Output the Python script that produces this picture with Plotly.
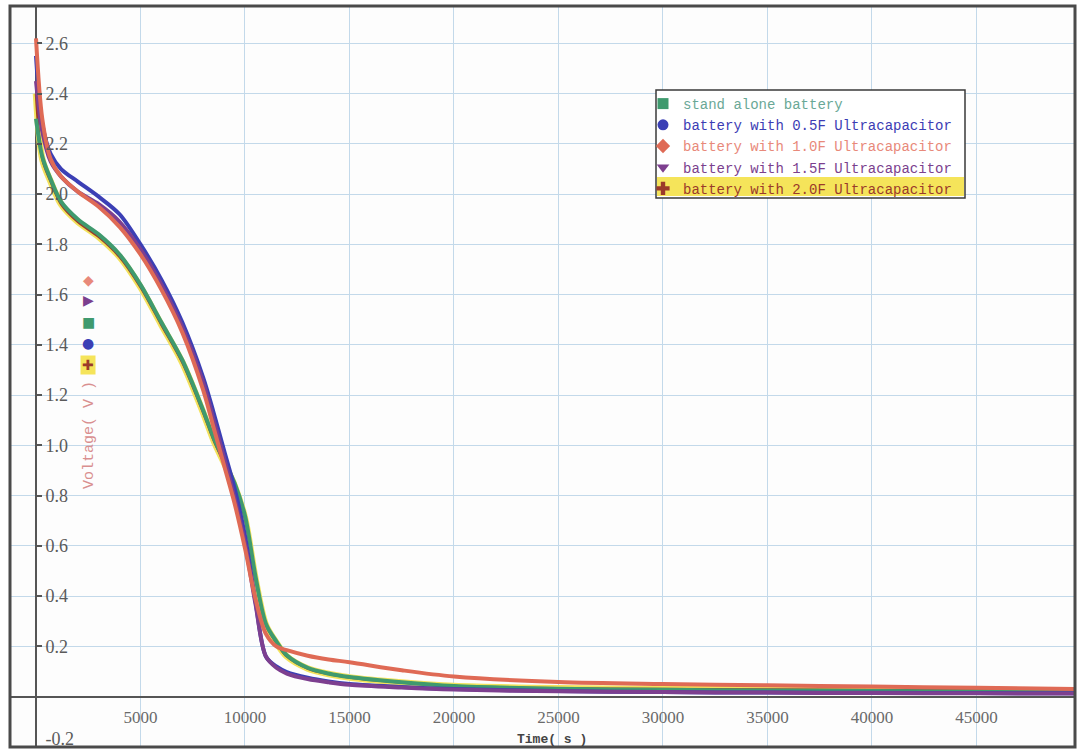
import plotly.graph_objects as go

# ---------------- data ----------------
time_s = [0, 300, 700, 1200, 2000, 3000, 4000, 5000, 6000, 7000, 8000, 8500, 9000,
          9500, 10000, 10500, 11000, 11500, 12000, 13000, 14000, 15000, 17500, 20000,
          25000, 30000, 35000, 40000, 45000, 49700]

v_standalone = [2.30, 2.15, 2.06, 1.97, 1.90, 1.84, 1.76, 1.64, 1.49, 1.34, 1.14, 1.03, 0.94,
                0.85, 0.72, 0.48, 0.29, 0.22, 0.165, 0.115, 0.092, 0.078, 0.057, 0.042,
                0.031, 0.027, 0.024, 0.022, 0.020, 0.018]
v_05F = [2.55, 2.28, 2.16, 2.10, 2.05, 1.99, 1.92, 1.80, 1.66, 1.49, 1.27, 1.13, 0.98,
         0.83, 0.64, 0.38, 0.16, 0.120, 0.098, 0.075, 0.060, 0.050, 0.038, 0.030,
         0.022, 0.018, 0.016, 0.015, 0.014, 0.013]
v_10F = [2.62, 2.30, 2.14, 2.07, 2.01, 1.95, 1.87, 1.76, 1.62, 1.45, 1.22, 1.07, 0.92,
         0.77, 0.59, 0.39, 0.25, 0.20, 0.185, 0.163, 0.148, 0.137, 0.105, 0.080,
         0.058, 0.050, 0.045, 0.040, 0.035, 0.030]
v_15F = [2.45, 2.25, 2.13, 2.07, 2.01, 1.96, 1.89, 1.78, 1.64, 1.47, 1.25, 1.10, 0.95,
         0.79, 0.61, 0.37, 0.16, 0.115, 0.092, 0.070, 0.057, 0.047, 0.036, 0.028,
         0.021, 0.018, 0.016, 0.014, 0.013, 0.012]
v_20F = [2.40, 2.14, 2.05, 1.96, 1.89, 1.83, 1.75, 1.63, 1.48, 1.33, 1.13, 1.02, 0.93,
         0.84, 0.71, 0.47, 0.285, 0.215, 0.160, 0.112, 0.090, 0.076, 0.056, 0.042,
         0.033, 0.030, 0.028, 0.026, 0.024, 0.022]

series_names = ["stand alone battery",
                "battery with 0.5F Ultracapacitor",
                "battery with 1.0F Ultracapacitor",
                "battery with 1.5F Ultracapacitor",
                "battery with 2.0F Ultracapacitor"]

x_ticks = [5000, 10000, 15000, 20000, 25000, 30000, 35000, 40000, 45000]
y_ticks = [-0.2, 0.2, 0.4, 0.6, 0.8, 1.0, 1.2, 1.4, 1.6, 1.8, 2.0, 2.2, 2.4, 2.6]

# ---------------- styling ----------------
W, H = 1077, 751
L, R, T, B = 10, 1075, 6, 747          # frame in pixels
X_MIN, X_MAX = -1244, 49716
Y_MIN, Y_MAX = -0.2005, 2.749

def px_x(p):
    return (p - L) / (R - L)

def px_y(p):
    return (B - p) / (B - T)

line_colors = ["#3f9a6e", "#3b3fb5", "#df6a55", "#7d3f8f", "#9b3a2a"]
text_colors = ["#6aa896", "#3c3cb4", "#e8897a", "#7b3f8e", "#9b3a2a"]
symbols = ["square", "circle", "diamond", "triangle-down", "cross"]
values = [v_standalone, v_05F, v_10F, v_15F, v_20F]
SPL = dict(shape="spline", smoothing=0.9)

fig = go.Figure()

# highlighted (selected) 2.0F series: yellow glow + brown core, drawn first
fig.add_trace(go.Scatter(x=time_s, y=v_20F, mode="lines", showlegend=False,
                         line=dict(color="#f2e25c", width=6.5, **SPL), hoverinfo="skip"))
fig.add_trace(go.Scatter(x=time_s, y=v_20F, mode="lines", showlegend=False,
                         line=dict(color=line_colors[4], width=2.5, **SPL)))

for idx in [0, 1, 3, 2]:
    fig.add_trace(go.Scatter(x=time_s, y=values[idx], mode="lines", showlegend=False,
                             line=dict(color=line_colors[idx], width=4, **SPL)))

# legend entries (markers only)
for i, nm in enumerate(series_names):
    fig.add_trace(go.Scatter(
        x=[None], y=[None], mode="markers", legendgroup=str(i),
        name=f'<span style="color:{text_colors[i]}">{nm}</span>',
        marker=dict(symbol=symbols[i], color=line_colors[i], size=11,
                    line=dict(width=0))))

# invisible trace tied to the secondary y axis that carries the clipped -0.2 label
fig.add_trace(go.Scatter(x=[None], y=[None], yaxis="y2", showlegend=False,
                         hoverinfo="skip"))

shapes = [
    # legend box
    dict(type="rect", xref="paper", yref="paper",
         x0=px_x(656), x1=px_x(965), y0=px_y(198), y1=px_y(90),
         fillcolor="white", line=dict(color="#3a3a3a", width=1.5), layer="above"),
    # yellow highlight of the selected legend entry
    dict(type="rect", xref="paper", yref="paper",
         x0=px_x(657), x1=px_x(964), y0=px_y(196), y1=px_y(177),
         fillcolor="#f5e45a", line=dict(width=0), layer="above"),
    # outer frame
    dict(type="rect", xref="paper", yref="paper", x0=0, x1=1, y0=0, y1=1,
         line=dict(color="#4a4a4a", width=3), layer="above"),
]

annotations = [
    dict(text="Voltage( V )", textangle=-90, xref="paper", yref="paper",
         x=px_x(89), y=px_y(435), xanchor="center", yanchor="middle", showarrow=False,
         font=dict(family="Liberation Mono", size=15, color="#d98f8f")),
    dict(text="<b>Time( s )</b>", xref="paper", yref="paper",
         x=px_x(552), y=px_y(739), xanchor="center", yanchor="middle", showarrow=False,
         font=dict(family="Liberation Mono", size=13, color="#444444")),
]
stack = [("◆", "#e8897a", 280, None), ("▶", "#7b3f8e", 300, None),
         ("■", "#3f9a6e", 322, None), ("●", "#3b3fb5", 343, None),
         ("✚", "#9b3a2a", 365, "#f5e45a")]
for g, c, yp, bg in stack:
    a = dict(text=g, xref="paper", yref="paper", x=px_x(88), y=px_y(yp),
             xanchor="center", yanchor="middle",
             showarrow=False, font=dict(family="DejaVu Sans", size=14, color=c))
    if bg:
        a["bgcolor"] = bg
        a["borderpad"] = 1
    annotations.append(a)

y_ticks_main = [t for t in y_ticks if t > 0]
y_ticks_low = [t for t in y_ticks if t < 0]
y_font = dict(family="Liberation Serif", size=18, color="#5a5a5a")
y_pos = (0 - X_MIN) / (X_MAX - X_MIN)

fig.update_layout(
    width=W, height=H,
    margin=dict(l=L, r=W - R, t=T, b=H - B, pad=0, autoexpand=False),
    paper_bgcolor="white", plot_bgcolor="#fdfdfd",
    showlegend=True,
    legend=dict(x=px_x(643), y=px_y(88), xanchor="left", yanchor="top",
                bgcolor="rgba(0,0,0,0)", borderwidth=0, tracegroupgap=0,
                font=dict(family="Liberation Mono", size=14)),
    shapes=shapes, annotations=annotations,
    xaxis=dict(range=[X_MIN, X_MAX], domain=[0, 1], anchor="free", automargin=False,
               position=(0 - Y_MIN) / (Y_MAX - Y_MIN),
               tickvals=x_ticks, ticktext=[str(v) for v in x_ticks],
               showgrid=True, gridcolor="#c3d9ea", gridwidth=1,
               zeroline=True, zerolinecolor="#555555", zerolinewidth=2,
               showline=False, ticks="", ticklabelstandoff=8,
               tickfont=dict(family="Liberation Sans Narrow", size=17, color="#6a6a6a")),
    yaxis=dict(range=[Y_MIN, Y_MAX], domain=[0, 1], anchor="free", side="right",
               automargin=False, position=y_pos,
               tickvals=y_ticks_main, ticktext=[f"{v:.1f}" for v in y_ticks_main],
               ticklabelposition="outside", ticks="outside", ticklen=5,
               ticklabeloverflow="allow",
               tickcolor="#555555", tickwidth=1.5,
               showgrid=True, gridcolor="#c3d9ea", gridwidth=1,
               zeroline=True, zerolinecolor="#555555", zerolinewidth=2,
               showline=False, tickfont=y_font),
    yaxis2=dict(range=[Y_MIN, Y_MAX], overlaying="y", anchor="free", side="right",
                automargin=False, position=y_pos,
                tickvals=y_ticks_low, ticktext=[f"{v:.1f}" for v in y_ticks_low],
                ticklabelposition="outside", ticks="outside", ticklen=5,
                ticklabelshift=-8, ticklabeloverflow="allow",
                tickcolor="#555555", tickwidth=1.5,
                showgrid=False, zeroline=False, showline=False, tickfont=y_font),
)

fig.write_html("out.html")
